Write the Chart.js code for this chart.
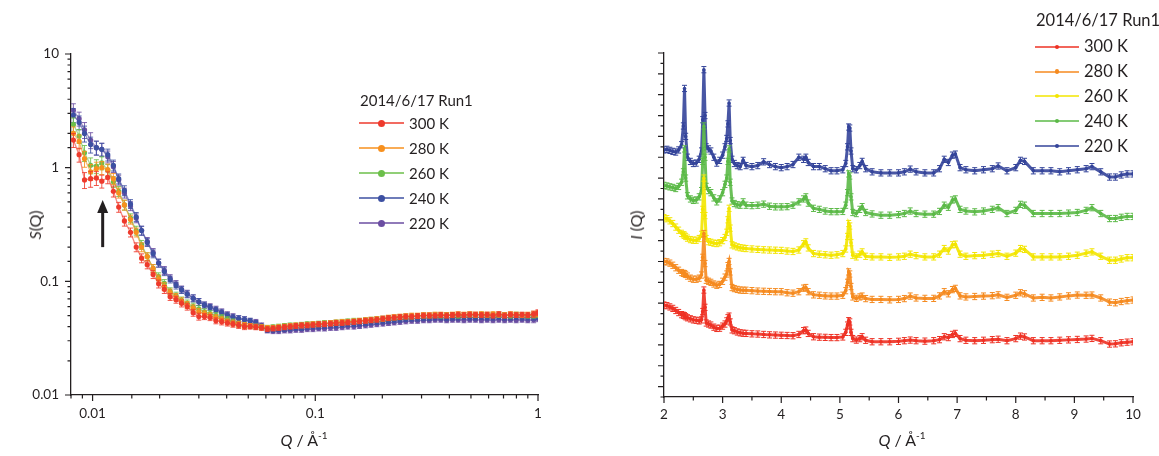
<!DOCTYPE html>
<html>
<head>
<meta charset="utf-8">
<script src="https://cdn.jsdelivr.net/npm/chart.js@4.4.1/dist/chart.umd.min.js"></script>
<style>
  html, body { margin: 0; padding: 0; background: #fff; }
  #wrap { position: relative; width: 1159px; height: 456px; overflow: hidden;
          font-family: Lato, "Open Sans", sans-serif; color: #231f20; }
  canvas { position: absolute; top: 0; }
  #cLeft { left: 0; }
  #cRight { left: 580px; }
  .lbl { position: absolute; white-space: nowrap; line-height: 1; }
  .ytitle { transform: translate(-50%, -50%) rotate(-90deg); font-size: 16px; }
  .xtitle { transform: translate(-50%, -50%); font-size: 16px; }
  .xtitle sup { font-size: 10px; vertical-align: 7px; }
  .legLine { position: absolute; height: 0; }
  .legDot { position: absolute; border-radius: 50%; }
</style>
</head>
<body>
<div id="wrap">
  <canvas id="cLeft" width="580" height="456"></canvas>
  <canvas id="cRight" width="579" height="456"></canvas>
  <div class="lbl ytitle" style="left:35px; top:225px;"><i>S</i>(Q)</div>
  <div class="lbl xtitle" style="left:304px; top:439px;"><i>Q</i> / Å<sup>-1</sup></div>
  <div class="lbl ytitle" style="left:636px; top:225px;"><i>I</i> (Q)</div>
  <div class="lbl xtitle" style="left:902px; top:439px;"><i>Q</i> / Å<sup>-1</sup></div>
</div>
<script>
// ---------- data: left panel, S(Q) on log-log axes ----------
const runName = '2014/6/17 Run1';
const tempLabels = ['300 K', '280 K', '260 K', '240 K', '220 K'];

const qSmall = [0.0082, 0.0087, 0.0092, 0.0098, 0.0104, 0.011, 0.0117, 0.0124, 0.0131, 0.0139,
  0.0148, 0.0157, 0.0166, 0.0176, 0.0187, 0.0198, 0.021, 0.0223, 0.0237, 0.0251,
  0.0266, 0.0283, 0.03, 0.0318, 0.0337, 0.0358, 0.038, 0.0403, 0.0427, 0.0453,
  0.0481, 0.051, 0.0541, 0.0574, 0.0609, 0.0646, 0.0685, 0.0727, 0.0771, 0.0818,
  0.0868, 0.092, 0.0976, 0.1036, 0.11, 0.117, 0.124, 0.132, 0.14, 0.149,
  0.158, 0.168, 0.178, 0.189, 0.201, 0.213, 0.226, 0.24, 0.255, 0.271,
  0.288, 0.306, 0.325, 0.345, 0.366, 0.389, 0.413, 0.438, 0.465, 0.494,
  0.524, 0.557, 0.591, 0.628, 0.667, 0.708, 0.752, 0.798, 0.848, 0.9,
  0.956, 1.0];

const s300 = [1.75, 1.3, 0.78, 0.8, 0.81, 0.76, 0.82, 0.62, 0.45, 0.34,
  0.27, 0.2, 0.16, 0.14, 0.115, 0.095, 0.085, 0.073, 0.069, 0.064,
  0.06, 0.053, 0.049, 0.049, 0.048, 0.045, 0.044, 0.043, 0.042, 0.041,
  0.04, 0.04, 0.0395, 0.039, 0.038, 0.0385, 0.039, 0.0395, 0.04, 0.0405,
  0.041, 0.041, 0.0415, 0.042, 0.042, 0.0425, 0.043, 0.043, 0.0435, 0.044,
  0.0445, 0.045, 0.0455, 0.046, 0.047, 0.0475, 0.048, 0.0485, 0.049, 0.049,
  0.0495, 0.05, 0.05, 0.05, 0.0505, 0.05, 0.0505, 0.051, 0.0505, 0.051,
  0.051, 0.0505, 0.051, 0.05, 0.0515, 0.05, 0.051, 0.0505, 0.051, 0.0505,
  0.0515, 0.053];
const s280 = [2.0, 1.7, 1.2, 0.92, 0.98, 1.0, 0.96, 0.8, 0.6, 0.47,
  0.35, 0.27, 0.2, 0.165, 0.13, 0.105, 0.09, 0.08, 0.073, 0.067,
  0.062, 0.058, 0.054, 0.052, 0.05, 0.048, 0.046, 0.044, 0.043, 0.042,
  0.041, 0.0405, 0.04, 0.0395, 0.039, 0.039, 0.0395, 0.04, 0.0405, 0.041,
  0.041, 0.0415, 0.042, 0.042, 0.0425, 0.043, 0.0435, 0.044, 0.044, 0.0445,
  0.045, 0.0455, 0.046, 0.0465, 0.047, 0.048, 0.0485, 0.049, 0.0495, 0.05,
  0.05, 0.0505, 0.0505, 0.051, 0.051, 0.0505, 0.051, 0.0515, 0.051, 0.0515,
  0.051, 0.0515, 0.051, 0.0515, 0.051, 0.0505, 0.0515, 0.051, 0.0505, 0.051,
  0.0515, 0.052];
const s260 = [2.4, 1.9, 1.35, 1.05, 1.03, 1.1, 0.95, 0.75, 0.62, 0.47,
  0.36, 0.28, 0.21, 0.165, 0.13, 0.11, 0.096, 0.082, 0.075, 0.068,
  0.064, 0.06, 0.057, 0.054, 0.052, 0.05, 0.048, 0.046, 0.044, 0.042,
  0.041, 0.0405, 0.04, 0.0395, 0.039, 0.0395, 0.04, 0.0405, 0.041, 0.041,
  0.0415, 0.042, 0.042, 0.0425, 0.043, 0.043, 0.0435, 0.044, 0.0445, 0.045,
  0.045, 0.0455, 0.046, 0.0465, 0.047, 0.0475, 0.048, 0.0485, 0.049, 0.049,
  0.0495, 0.05, 0.05, 0.0505, 0.05, 0.0505, 0.0505, 0.05, 0.0505, 0.051,
  0.0505, 0.051, 0.0505, 0.0505, 0.051, 0.0505, 0.05, 0.051, 0.0505, 0.05,
  0.0505, 0.051];
const s240 = [2.9, 2.5, 2.0, 1.6, 1.5, 1.45, 1.3, 1.05, 0.8, 0.63,
  0.48, 0.37, 0.28, 0.22, 0.175, 0.145, 0.122, 0.104, 0.092, 0.084,
  0.077, 0.071, 0.066, 0.062, 0.059, 0.056, 0.053, 0.05, 0.048, 0.047,
  0.046, 0.045, 0.043, 0.04, 0.0375, 0.0375, 0.038, 0.038, 0.0385, 0.039,
  0.039, 0.0395, 0.04, 0.04, 0.0405, 0.041, 0.041, 0.0415, 0.042, 0.042,
  0.0425, 0.043, 0.0435, 0.044, 0.0445, 0.045, 0.0455, 0.046, 0.0465, 0.047,
  0.047, 0.0475, 0.0475, 0.048, 0.048, 0.0475, 0.048, 0.048, 0.0485, 0.048,
  0.048, 0.0485, 0.048, 0.048, 0.0485, 0.048, 0.048, 0.0485, 0.048, 0.048,
  0.0485, 0.049];
const s220 = [3.2, 2.7, 2.15, 1.75, 1.5, 1.45, 1.25, 1.02, 0.78, 0.6,
  0.46, 0.36, 0.28, 0.225, 0.18, 0.145, 0.125, 0.107, 0.095, 0.085,
  0.078, 0.071, 0.066, 0.062, 0.06, 0.057, 0.054, 0.051, 0.049, 0.047,
  0.046, 0.045, 0.044, 0.041, 0.037, 0.0365, 0.0365, 0.037, 0.037, 0.0375,
  0.0375, 0.038, 0.038, 0.0385, 0.0385, 0.039, 0.039, 0.0395, 0.04, 0.04,
  0.0405, 0.041, 0.0415, 0.042, 0.0425, 0.043, 0.0435, 0.044, 0.0445, 0.045,
  0.045, 0.0455, 0.0455, 0.046, 0.046, 0.0455, 0.046, 0.046, 0.0455, 0.046,
  0.046, 0.0455, 0.046, 0.0455, 0.046, 0.0455, 0.046, 0.0455, 0.046, 0.0455,
  0.046, 0.047];
// relative error bar size read per point (same for every temperature)
const sRelErr = [0.14, 0.14, 0.16, 0.16, 0.14, 0.13, 0.12, 0.11, 0.1, 0.1,
  0.09, 0.09, 0.09, 0.08, 0.08, 0.08, 0.08, 0.07, 0.07, 0.07,
  0.07, 0.07, 0.07, 0.06, 0.06, 0.06, 0.06, 0.06, 0.06, 0.06,
  0.06, 0.05, 0.05, 0.05, 0.05, 0.05, 0.05, 0.05, 0.05, 0.05,
  0.05, 0.05, 0.05, 0.05, 0.05, 0.05, 0.05, 0.05, 0.05, 0.05,
  0.05, 0.05, 0.05, 0.05, 0.05, 0.05, 0.05, 0.05, 0.05, 0.05,
  0.05, 0.05, 0.05, 0.05, 0.05, 0.05, 0.05, 0.05, 0.05, 0.05,
  0.05, 0.05, 0.05, 0.05, 0.05, 0.05, 0.05, 0.05, 0.05, 0.05,
  0.06, 0.06];
// arrow marking the shoulder: Q position, S at tail and tip
const arrowQ = 0.0111;
const arrowS = [0.2, 0.52];

// ---------- data: right panel, I(Q) offset curves ----------
const qWide = [2.00, 2.05, 2.10, 2.15, 2.20, 2.25, 2.30, 2.33, 2.35, 2.37,
  2.40, 2.45, 2.50, 2.55, 2.60, 2.64, 2.66, 2.68, 2.70, 2.72,
  2.76, 2.80, 2.85, 2.90, 2.95, 3.00, 3.04, 3.07, 3.09, 3.11,
  3.13, 3.16, 3.20, 3.25, 3.30, 3.35, 3.40, 3.50, 3.60, 3.70,
  3.80, 3.90, 4.00, 4.10, 4.20, 4.30, 4.38, 4.42, 4.46, 4.55,
  4.65, 4.75, 4.85, 4.95, 5.05, 5.10, 5.13, 5.15, 5.17, 5.19,
  5.22, 5.28, 5.34, 5.38, 5.44, 5.55, 5.70, 5.85, 6.00, 6.10,
  6.20, 6.30, 6.45, 6.60, 6.70, 6.78, 6.85, 6.92, 6.97, 7.05,
  7.15, 7.30, 7.45, 7.60, 7.70, 7.85, 8.00, 8.08, 8.15, 8.30,
  8.45, 8.60, 8.75, 8.90, 9.05, 9.20, 9.30, 9.45, 9.60, 9.70,
  9.80, 9.90, 10.00];

const i300 = [3.91, 3.88, 3.82, 3.75, 3.65, 3.55, 3.45, 3.42, 3.4, 3.35,
  3.3, 3.25, 3.2, 3.18, 3.15, 3.2, 3.6, 4.63, 3.8, 3.05,
  3.0, 2.95, 2.85, 2.79, 2.8, 2.9, 3.0, 3.15, 3.3, 3.38,
  3.1, 2.72, 2.68, 2.62, 2.58, 2.56, 2.55, 2.53, 2.52, 2.5,
  2.48, 2.47, 2.46, 2.45, 2.44, 2.5, 2.68, 2.71, 2.55, 2.39,
  2.37, 2.36, 2.35, 2.35, 2.38, 2.6, 2.95, 3.16, 3.1, 2.6,
  2.3, 2.23, 2.3, 2.39, 2.22, 2.15, 2.15, 2.15, 2.17, 2.2,
  2.23, 2.2, 2.18, 2.2, 2.25, 2.39, 2.35, 2.5, 2.55, 2.3,
  2.22, 2.2, 2.22, 2.25, 2.27, 2.2, 2.3, 2.42, 2.38, 2.2,
  2.2, 2.2, 2.22, 2.24, 2.26, 2.28, 2.31, 2.2, 2.04, 2.05,
  2.1, 2.13, 2.15];
const i280 = [6.0, 5.98, 5.92, 5.82, 5.7, 5.58, 5.47, 5.43, 5.42, 5.38,
  5.3, 5.2, 5.15, 5.15, 5.2, 5.35, 6.2, 7.34, 5.9, 5.1,
  5.05, 5.0, 4.92, 4.86, 4.9, 5.05, 5.25, 5.4, 5.8, 6.0,
  5.5, 4.75, 4.7, 4.66, 4.63, 4.62, 4.62, 4.6, 4.58, 4.57,
  4.56, 4.55, 4.55, 4.5, 4.48, 4.55, 4.72, 4.75, 4.55, 4.4,
  4.38, 4.35, 4.34, 4.34, 4.38, 4.6, 5.0, 5.5, 5.4, 4.8,
  4.3, 4.23, 4.3, 4.34, 4.22, 4.18, 4.18, 4.16, 4.18, 4.22,
  4.34, 4.25, 4.23, 4.23, 4.35, 4.55, 4.45, 4.65, 4.71, 4.35,
  4.3, 4.32, 4.34, 4.36, 4.4, 4.28, 4.38, 4.5, 4.45, 4.25,
  4.28, 4.25, 4.3, 4.35, 4.39, 4.38, 4.39, 4.25, 4.05, 4.02,
  4.08, 4.12, 4.15];
const i260 = [8.1, 8.05, 7.95, 7.82, 7.65, 7.5, 7.35, 7.28, 7.26, 7.2,
  7.12, 7.05, 7.02, 7.02, 7.1, 7.3, 8.5, 10.0, 8.2, 7.1,
  6.95, 6.92, 6.88, 6.86, 6.9, 7.0, 7.15, 7.4, 8.0, 8.55,
  7.6, 6.8, 6.75, 6.7, 6.66, 6.64, 6.62, 6.6, 6.58, 6.56,
  6.55, 6.54, 6.53, 6.5, 6.48, 6.55, 6.85, 6.94, 6.65, 6.38,
  6.35, 6.32, 6.3, 6.32, 6.38, 6.6, 7.2, 7.82, 7.7, 6.9,
  6.3, 6.22, 6.35, 6.46, 6.25, 6.22, 6.22, 6.2, 6.22, 6.25,
  6.35, 6.28, 6.22, 6.22, 6.35, 6.62, 6.5, 6.8, 6.83, 6.35,
  6.25, 6.28, 6.3, 6.35, 6.38, 6.25, 6.4, 6.62, 6.58, 6.22,
  6.22, 6.22, 6.22, 6.25, 6.3, 6.4, 6.46, 6.25, 6.06, 6.06,
  6.12, 6.18, 6.18];
const i240 = [9.65, 9.62, 9.58, 9.55, 9.5, 9.6, 9.8, 10.3, 11.4, 10.0,
  9.15, 9.0, 8.93, 8.95, 9.1, 9.4, 10.8, 12.5, 11.0, 9.6,
  9.4, 9.3, 9.05, 8.86, 9.0, 9.3, 9.7, 10.0, 10.8, 11.4,
  9.8, 8.9, 8.78, 8.72, 8.7, 8.86, 8.7, 8.68, 8.7, 8.75,
  8.65, 8.62, 8.62, 8.63, 8.7, 8.86, 9.0, 9.1, 8.8, 8.55,
  8.5, 8.42, 8.39, 8.39, 8.4, 8.7, 9.3, 10.2, 10.1, 9.1,
  8.35, 8.3, 8.5, 8.63, 8.35, 8.28, 8.22, 8.22, 8.25, 8.3,
  8.42, 8.3, 8.27, 8.27, 8.4, 8.7, 8.6, 8.95, 9.0, 8.5,
  8.42, 8.38, 8.42, 8.5, 8.58, 8.3, 8.45, 8.74, 8.7, 8.3,
  8.3, 8.3, 8.3, 8.32, 8.35, 8.45, 8.58, 8.3, 8.06, 8.06,
  8.12, 8.16, 8.16];
const i220 = [11.35, 11.38, 11.33, 11.28, 11.25, 11.35, 11.6, 12.5, 14.3, 12.0,
  11.0, 10.8, 10.7, 10.72, 10.9, 11.3, 12.8, 15.2, 13.0, 11.5,
  11.4, 11.3, 11.0, 10.72, 10.85, 11.1, 11.5, 11.9, 12.6, 13.6,
  11.8, 10.9, 10.7, 10.6, 10.55, 10.85, 10.6, 10.55, 10.6, 10.78,
  10.65, 10.55, 10.5, 10.55, 10.65, 11.0, 10.9, 11.0, 10.75, 10.55,
  10.55, 10.45, 10.35, 10.35, 10.4, 10.7, 11.5, 12.45, 12.4, 11.3,
  10.45, 10.4, 10.6, 10.8, 10.45, 10.3, 10.25, 10.25, 10.25, 10.3,
  10.43, 10.3, 10.25, 10.25, 10.45, 10.9, 10.75, 11.1, 11.15, 10.5,
  10.4, 10.35, 10.4, 10.45, 10.58, 10.35, 10.5, 10.85, 10.8, 10.35,
  10.35, 10.35, 10.3, 10.35, 10.4, 10.45, 10.55, 10.3, 10.05, 10.05,
  10.15, 10.2, 10.2];
const iErr = 0.15;

// ---------- styling ----------
const leftColors = ['#ee3a2c', '#f7901e', '#6cbf4a', '#3d50a2', '#6b4ea2'];
const rightColors = ['#ee3124', '#f58a1f', '#f3e500', '#5bb947', '#34449a'];
const axisColor = '#231f20';
const fontFamily = 'Lato, "Open Sans", sans-serif';

function fade(hex, a) {
  const n = parseInt(hex.slice(1), 16);
  return 'rgba(' + (n >> 16) + ',' + ((n >> 8) & 255) + ',' + (n & 255) + ',' + a + ')';
}
function isMajorTick(scale, v) {
  if (scale.type === 'logarithmic') {
    const l = Math.log10(v);
    return Math.abs(l - Math.round(l)) < 1e-6;
  }
  return Math.abs(v - Math.round(v)) < 1e-6;
}

// outward tick marks, long for major ticks and short for minor ones
const tickMarks = {
  id: 'tickMarks',
  afterDraw(chart) {
    const ctx = chart.ctx;
    ctx.save();
    ctx.strokeStyle = axisColor;
    ctx.lineWidth = 1.2;
    ctx.beginPath();
    Object.values(chart.scales).forEach(sc => {
      sc.ticks.forEach(t => {
        const p = sc.getPixelForValue(t.value);
        const len = isMajorTick(sc, t.value) ? 6 : 3.5;
        if (sc.isHorizontal()) {
          ctx.moveTo(p, sc.top); ctx.lineTo(p, sc.top + len);
        } else {
          ctx.moveTo(sc.right - len, p); ctx.lineTo(sc.right, p);
        }
      });
    });
    ctx.stroke();
    ctx.restore();
  }
};

// vertical error bars with caps, drawn just before each dataset
const errorBars = {
  id: 'errorBars',
  beforeDatasetDraw(chart, args) {
    const ds = chart.data.datasets[args.index];
    if (!ds.err) return;
    const ctx = chart.ctx, yS = chart.scales.y, a = chart.chartArea;
    ctx.save();
    ctx.beginPath();
    ctx.rect(a.left, a.top, a.right - a.left, a.bottom - a.top);
    ctx.clip();
    ctx.strokeStyle = ds.errColor;
    ctx.lineWidth = 1;
    ctx.beginPath();
    args.meta.data.forEach((pt, k) => {
      const v = ds.data[k].y, e = ds.err[k];
      const y1 = yS.getPixelForValue(v + e);
      const y2 = yS.getPixelForValue(Math.max(v - e, 1e-6));
      ctx.moveTo(pt.x, y1); ctx.lineTo(pt.x, y2);
      ctx.moveTo(pt.x - ds.capHalf, y1); ctx.lineTo(pt.x + ds.capHalf, y1);
      ctx.moveTo(pt.x - ds.capHalf, y2); ctx.lineTo(pt.x + ds.capHalf, y2);
    });
    ctx.stroke();
    ctx.restore();
  }
};

// the black arrow on the left panel
const arrowMark = {
  id: 'arrowMark',
  afterDatasetsDraw(chart) {
    const ctx = chart.ctx;
    const x = chart.scales.x.getPixelForValue(arrowQ);
    const yTail = chart.scales.y.getPixelForValue(arrowS[0]);
    const yTip = chart.scales.y.getPixelForValue(arrowS[1]);
    ctx.save();
    ctx.strokeStyle = axisColor;
    ctx.fillStyle = axisColor;
    ctx.lineWidth = 3;
    ctx.beginPath();
    ctx.moveTo(x, yTail); ctx.lineTo(x, yTip + 10);
    ctx.stroke();
    ctx.beginPath();
    ctx.moveTo(x, yTip); ctx.lineTo(x - 5.5, yTip + 13); ctx.lineTo(x + 5.5, yTip + 13);
    ctx.closePath();
    ctx.fill();
    ctx.restore();
  }
};

const tickFont = { family: fontFamily, size: 13.5 };

// -------------------------------
// LEFT PANEL - S(Q), log-log
// -------------------------------
const sSeries = [s300, s280, s260, s240, s220];
new Chart(document.getElementById('cLeft'), {
  type: 'line',
  data: {
    datasets: sSeries.map((arr, i) => ({
      label: tempLabels[i],
      data: arr.map((v, k) => ({ x: qSmall[k], y: v })),
      err: arr.map((v, k) => v * sRelErr[k]),
      errColor: fade(leftColors[i], 0.85),
      capHalf: 2.5,
      borderColor: fade(leftColors[i], 0.6),
      borderWidth: 1.3,
      pointRadius: 2.6,
      pointBorderWidth: 0,
      pointBackgroundColor: leftColors[i],
      tension: 0
    }))
  },
  options: {
    animation: false,
    responsive: false,
    devicePixelRatio: 1,
    layout: { padding: { left: 0, right: 42, top: 54, bottom: 0 } },
    plugins: { legend: { display: false }, tooltip: { enabled: false } },
    scales: {
      x: {
        type: 'logarithmic', min: 0.008, max: 1,
        grid: { display: false, drawTicks: false },
        border: { display: true, color: axisColor, width: 1.3 },
        ticks: {
          autoSkip: false, maxRotation: 0, padding: 11, color: axisColor, font: tickFont,
          callback: (v) => isMajorTick({ type: 'logarithmic' }, v) ? String(Number(v.toPrecision(2))) : ''
        },
        afterFit: (s) => { s.height = 61; }
      },
      y: {
        type: 'logarithmic', min: 0.01, max: 10,
        grid: { display: false, drawTicks: false },
        border: { display: true, color: axisColor, width: 1.3 },
        ticks: {
          autoSkip: false, padding: 12, color: axisColor, font: tickFont,
          callback: (v) => isMajorTick({ type: 'logarithmic' }, v) ? String(Number(v.toPrecision(2))) : ''
        },
        afterFit: (s) => { s.width = 71; }
      }
    }
  },
  plugins: [tickMarks, errorBars, arrowMark]
});

// -------------------------------
// RIGHT PANEL - I(Q), offset curves
// -------------------------------
const iSeries = [i300, i280, i260, i240, i220];
new Chart(document.getElementById('cRight'), {
  type: 'line',
  data: {
    datasets: iSeries.map((arr, i) => ({
      label: tempLabels[i],
      data: arr.map((v, k) => ({ x: qWide[k], y: v })),
      err: arr.map(() => iErr),
      errColor: rightColors[i],
      capHalf: 2.5,
      borderColor: fade(rightColors[i], 0.9),
      borderWidth: 3,
      pointRadius: 1.8,
      pointBorderWidth: 0,
      pointBackgroundColor: rightColors[i],
      tension: 0
    }))
  },
  options: {
    animation: false,
    responsive: false,
    devicePixelRatio: 1,
    layout: { padding: { left: 0, right: 26, top: 53, bottom: 0 } },
    plugins: { legend: { display: false }, tooltip: { enabled: false } },
    scales: {
      x: {
        type: 'linear', min: 2, max: 10,
        grid: { display: false, drawTicks: false },
        border: { display: true, color: axisColor, width: 1.3 },
        ticks: {
          stepSize: 0.5, maxTicksLimit: 100, autoSkip: false, maxRotation: 0,
          padding: 10, color: axisColor, font: tickFont,
          callback: (v) => Number.isInteger(v) ? String(v) : ''
        },
        afterFit: (s) => { s.height = 59; }
      },
      y: {
        type: 'linear', min: -0.5, max: 16,
        grid: { display: false, drawTicks: false },
        border: { display: true, color: axisColor, width: 1.3 },
        ticks: { stepSize: 0.5, maxTicksLimit: 100, autoSkip: false, callback: () => '' },
        afterFit: (s) => { s.width = 84; }
      }
    }
  },
  plugins: [tickMarks, errorBars]
});

// -------------------------------
// LEGENDS (html, positioned over each panel)
// -------------------------------
function addLegend(colors, x0, titleY, firstY, stepY, fontSize, dotR, lineW) {
  const wrap = document.getElementById('wrap');
  const t = document.createElement('div');
  t.className = 'lbl';
  t.style.cssText = `left:${x0 + 1}px; top:${titleY - fontSize / 2}px; font-size:${fontSize}px;`;
  t.textContent = runName;
  wrap.appendChild(t);
  tempLabels.forEach((lab, i) => {
    const y = firstY + i * stepY;
    const ln = document.createElement('div');
    ln.className = 'legLine';
    ln.style.cssText = `left:${x0}px; top:${y - 1}px; width:${lineW}px; border-top:2px solid ${fade(colors[i], 0.75)};`;
    wrap.appendChild(ln);
    const d = document.createElement('div');
    d.className = 'legDot';
    d.style.cssText = `left:${x0 + lineW / 2 - dotR}px; top:${y - dotR}px; width:${dotR * 2}px; height:${dotR * 2}px; background:${colors[i]};`;
    wrap.appendChild(d);
    const tx = document.createElement('div');
    tx.className = 'lbl';
    tx.style.cssText = `left:${x0 + lineW + 5}px; top:${y - fontSize / 2}px; font-size:${fontSize}px;`;
    tx.textContent = lab;
    wrap.appendChild(tx);
  });
}
addLegend(leftColors, 359, 100, 123.3, 25, 15, 3.5, 45);
addLegend(rightColors, 1035, 20, 46.7, 24.8, 16.5, 2.2, 44);
</script>
</body>
</html>
